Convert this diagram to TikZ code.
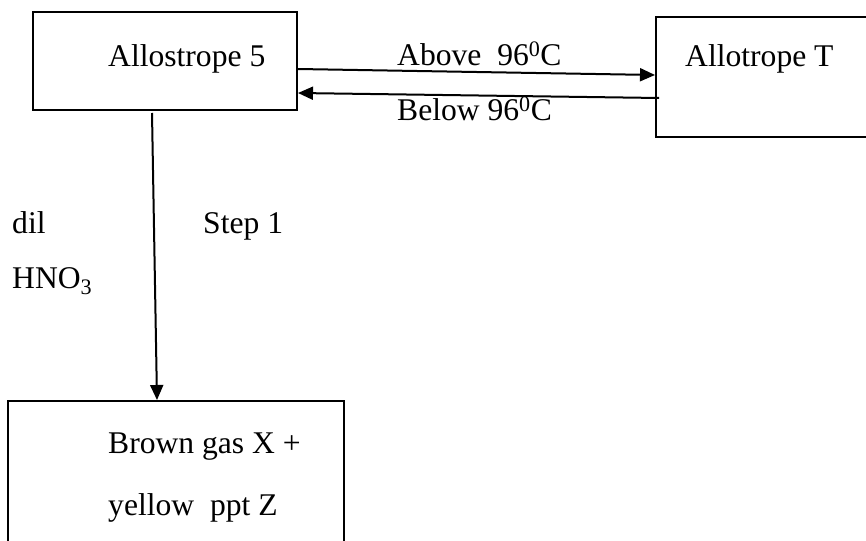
\documentclass[tikz,border=0pt]{standalone}
\usepackage{fontspec}
\setmainfont{Liberation Serif}
\usetikzlibrary{arrows.meta,calc}
\begin{document}
\begin{tikzpicture}[x=1pt,y=-1pt,
  box/.style={draw,line width=2pt,rectangle,inner sep=0pt},
  lbl/.style={anchor=base west,inner sep=0pt,font=\fontsize{31.6}{38}\selectfont},
  arr/.style={line width=2pt,-{Triangle[length=15pt,width=13pt]}}]
\useasboundingbox[fill=white] (0,0) rectangle (866,540);
% boxes
\node[box,minimum width=264pt,minimum height=98pt] (A) at (165,61) {};
\node[box,minimum width=214pt,minimum height=120pt] (T) at (763,77) {};
\node[box,minimum width=336pt,minimum height=144pt] (B) at (176,473) {};
% texts
\node[lbl] (tA) at (108,67) {Allostrope 5};
\node[lbl] (tT) at (685,67) {Allotrope T};
\node[lbl] (up) at (397,66) {Above~~96\textsuperscript{0}C};
\node[lbl] (dn) at (397,121) {Below 96\textsuperscript{0}C};
\node[lbl] (dil) at (12,233) {dil};
\node[lbl] (hno) at (12,288) {HNO\textsubscript{3}};
\node[lbl] (step) at (203,233) {Step 1};
\node[lbl] (b1) at (108,453) {Brown gas X +};
\node[lbl] (b2) at (108,515) {yellow~~ppt Z};
% connectors
\draw[arr] (A.east |- 0,69) -- (T.west |- 0,75);
\draw[arr] ($(T.west |- 0,98)+(4,0)$) -- (A.east |- 0,93);
\draw[arr] ($(A.south west)+(120,2)$) -- ($(B.north west)+(150,0)$);
\end{tikzpicture}
\end{document}
